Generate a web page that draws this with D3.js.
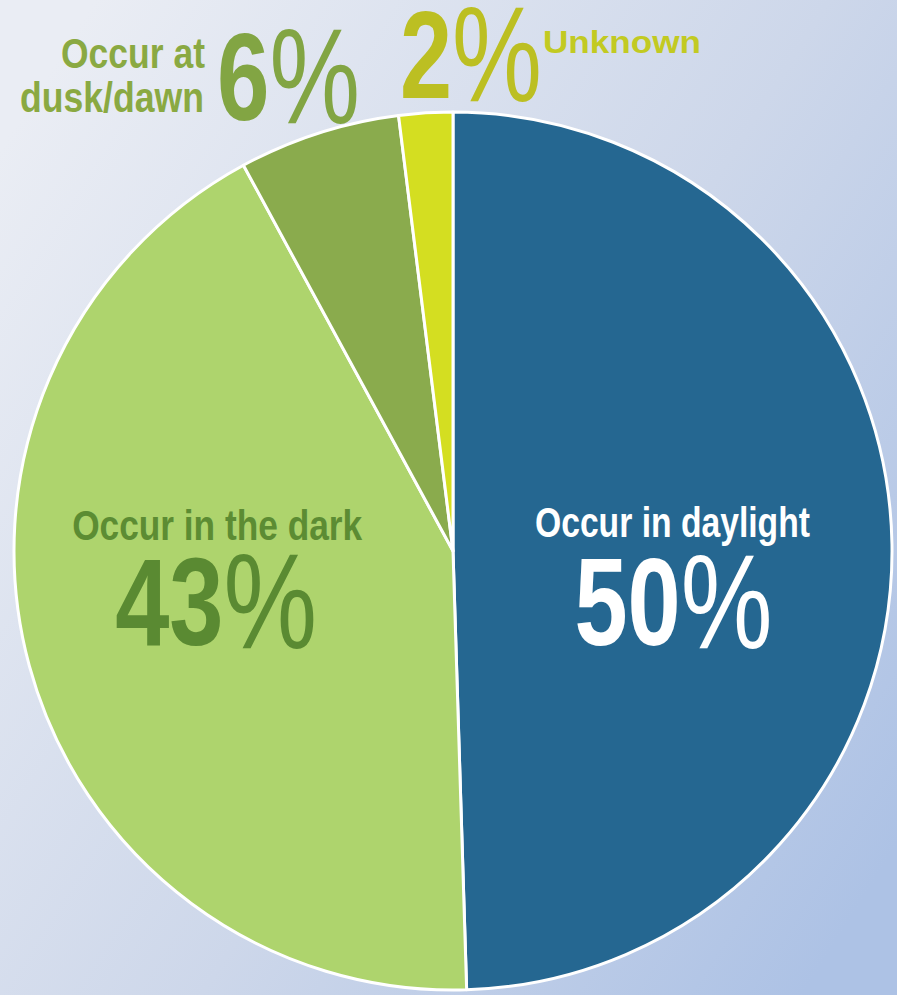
<!DOCTYPE html>
<html>
<head>
<meta charset="utf-8">
<script src="https://cdn.jsdelivr.net/npm/d3@7"></script>
<style>
  html, body { margin: 0; padding: 0; background: #dfe5f0; }
  svg { display: block; }
  text { font-family: "Liberation Sans", Arial, sans-serif; font-weight: bold; }
</style>
</head>
<body>
<script>
// Share of incidents by light condition
const categories = ["Occur in daylight", "Occur in the dark", "Occur at dusk/dawn", "Unknown"];
const values = [50, 43, 6, 2];
const valueLabels = ["50%", "43%", "6%", "2%"];
const sliceColors = ["#256791", "#aed46d", "#8aab4d", "#d4de21"];

const W = 897, H = 995;
const cx = 453, cy = 551, R = 439;

const svg = d3.select("body").append("svg")
  .attr("width", W).attr("height", H);

// soft blue-grey backdrop
const defs = svg.append("defs");
const bg = defs.append("linearGradient").attr("id", "bg")
  .attr("x1", "0").attr("y1", "0.15").attr("x2", "1").attr("y2", "0.85");
bg.append("stop").attr("offset", "0").attr("stop-color", "#eaedf4");
bg.append("stop").attr("offset", "0.55").attr("stop-color", "#cdd7ea");
bg.append("stop").attr("offset", "1").attr("stop-color", "#adc2e5");
svg.append("rect").attr("width", W).attr("height", H).attr("fill", "url(#bg)");

const data = categories.map((c, i) => ({ name: c, value: values[i], label: valueLabels[i], color: sliceColors[i] }));

const pie = d3.pie().value(d => d.value).sort(null);
const arcs = pie(data);
const arc = d3.arc().innerRadius(0).outerRadius(R);

const g = svg.append("g").attr("transform", `translate(${cx},${cy})`);
g.selectAll("path.slice").data(arcs).enter().append("path")
  .attr("class", "slice")
  .attr("d", arc)
  .attr("fill", d => d.data.color)
  .attr("stroke", "#ffffff")
  .attr("stroke-width", 3)
  .attr("stroke-linejoin", "round");

// Condensed lettering: each text is fitted to its width with textLength
function label(x, y, txt, size, color, len, anchor, weight) {
  svg.append("text")
    .attr("x", x).attr("y", y)
    .attr("font-size", size)
    .attr("fill", color)
    .attr("font-weight", weight || "bold")
    .attr("text-anchor", anchor || "start")
    .attr("textLength", len)
    .attr("lengthAdjust", "spacingAndGlyphs")
    .text(txt);
}

// Big percentages: bold digits with a lighter, taller percent sign
function percent(x, y, txt, size, color, len, anchor) {
  const t = svg.append("text")
    .attr("x", x).attr("y", y)
    .attr("font-size", size)
    .attr("fill", color)
    .attr("text-anchor", anchor || "start")
    .attr("textLength", len)
    .attr("lengthAdjust", "spacingAndGlyphs");
  t.append("tspan").attr("font-weight", "bold").text(txt.replace("%", ""));
  t.append("tspan").attr("font-weight", "normal")
    .attr("font-size", size * 1.08).attr("dy", 3).text("%");
}

// Inside labels, offset from each slice's centroid
const labelArc = d3.arc().innerRadius(R * 0.5).outerRadius(R * 0.5);
const cDay = labelArc.centroid(arcs[0]);
const cDark = labelArc.centroid(arcs[1]);

label(cx + cDay[0], cy + cDay[1] - 11, categories[0], 42, "#ffffff", 275, "middle");
percent(cx + cDay[0] + 1, cy + cDay[1] + 97, valueLabels[0], 124, "#ffffff", 198, "middle");

label(cx + cDark[0] - 24, cy + cDark[1] - 68, categories[1], 42, "#5c8c33", 290, "middle");
percent(cx + cDark[0] - 25, cy + cDark[1] + 37, valueLabels[1], 125, "#5a8a32", 202, "middle");

// Outside labels above the small slices
label(205, 68, "Occur at", 43, "#8aa942", 144, "end");
label(204, 112, "dusk/dawn", 43, "#8aa942", 184, "end");
percent(217, 120, valueLabels[2], 125, "#82a543", 143);
percent(400, 98, valueLabels[3], 125, "#bcbf22", 142);
label(543, 53, categories[3], 31, "#c2ca22", 158, "start", "normal");
</script>
</body>
</html>
